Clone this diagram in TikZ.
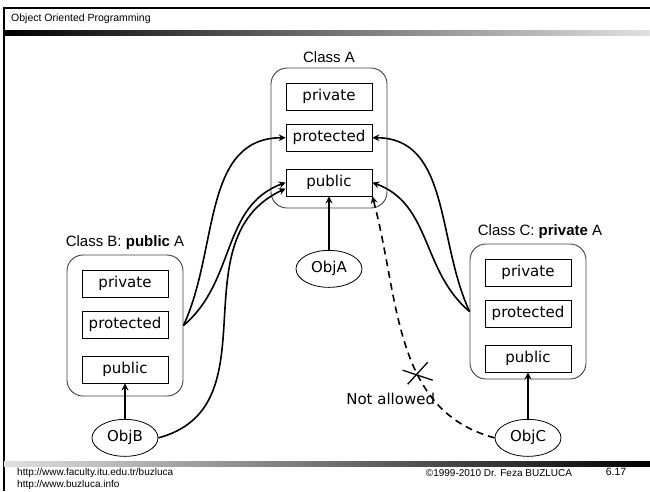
\documentclass[tikz,border=0pt]{standalone}
\usepackage{fontspec}
\usepackage{tikz}
\usetikzlibrary{shapes, arrows, arrows.meta, positioning, calc}
\newfontfamily\arialfont{Liberation Sans}
\newfontfamily\comicfont{DejaVu Sans}

\begin{document}
\begin{tikzpicture}[x=1pt, y=1pt, >={Stealth[length=7pt, width=7pt, inset=2.5pt]},
    classbox/.style={rectangle, draw=black!75, line width=0.9pt, rounded corners=16pt, minimum width=116pt, minimum height=141pt},
    fieldbox/.style={rectangle, draw, line width=0.8pt, minimum width=86pt, minimum height=27pt, inner sep=0pt, font=\comicfont\fontsize{15}{18}\selectfont},
    objnode/.style={ellipse, draw, line width=0.8pt, minimum width=66pt, minimum height=37pt, inner sep=0pt, font=\comicfont\fontsize{15}{18}\selectfont},
    classlabel/.style={inner sep=1pt, font=\arialfont\fontsize{15}{18}\selectfont},
    footer/.style={inner sep=0pt, font=\arialfont\fontsize{10}{12}\selectfont},
    link/.style={->, line width=1.6pt}]

    \useasboundingbox (0,0) rectangle (650,-491);
    \draw[line width=2.5pt] (3,-8) -- (650,-8);
    \draw[line width=1.5pt] (4,-8) -- (4,-491);
    \node[anchor=west, inner sep=0pt, font=\arialfont\fontsize{10.5}{12}\selectfont] (title) at (11,-19) {Object Oriented Programming};
    \shade[left color=black, right color=black!12] (4,-30.5) rectangle (650,-35.5);
    \shade[left color=black!12, middle color=black!30, right color=black] (4,-461) rectangle (650,-466);

    \node[classbox, minimum height=140pt] (clsA) at (329,-138) {};
    \node[classlabel, above=4pt of clsA] (lblA) {Class A};
    \node[fieldbox, below=15pt of clsA.north] (priA) {private};
    \node[fieldbox, below=13.5pt of priA] (proA) {protected};
    \node[fieldbox, below=17pt of proA] (pubA) {public};
    \node[objnode, below=41.5pt of clsA] (objA) {ObjA};

    \node[classbox] (clsB) at (125,-325.5) {};
    \node[classlabel, above=4pt of clsB] (lblB) {Class B: \textbf{public} A};
    \node[fieldbox, below=15pt of clsB.north] (priB) {private};
    \node[fieldbox, below=13.5pt of priB] (proB) {protected};
    \node[fieldbox, below=17pt of proB] (pubB) {public};
    \node[objnode, below=22.5pt of clsB] (objB) {ObjB};

    \node[classbox, minimum height=135pt] (clsC) at (528,-311.5) {};
    \node[classlabel, above=4pt of clsC, xshift=12pt] (lblC) {Class C: \textbf{private} A};
    \node[fieldbox, below=15pt of clsC.north] (priC) {private};
    \node[fieldbox, below=13.5pt of priC] (proC) {protected};
    \node[fieldbox, below=17pt of proC] (pubC) {public};
    \node[objnode, below=39.5pt of clsC] (objC) {ObjC};

    \draw[link] (objA) -- (pubA);
    \draw[link] (objB) -- (pubB);
    \draw[link] (objC) -- (pubC);
    \draw[link] (clsB.east) to[out=65, in=180] (proA.west);
    \draw[link] (clsB.east) to[out=40, in=200] (pubA.west);
    \draw[link] (objB.east) to[out=15, in=205, looseness=1.1] ([yshift=-6pt]pubA.west);
    \draw[link] (clsC.west) to[out=115, in=0] (proA.east);
    \draw[link] (clsC.west) to[out=140, in=-20] (pubA.east);
    \draw[link, dash pattern=on 7pt off 5pt] (objC.west) to[out=165, in=285] coordinate[pos=0.38] (cross) (pubA.south east);

    \draw[line width=1.3pt] ($(cross)+(-15,5)$) -- ($(cross)+(15,-5)$);
    \draw[line width=1.3pt] ($(cross)+(-10,-9)$) -- ($(cross)+(10,13)$);
    \node[font=\comicfont\fontsize{15}{18}\selectfont] (notok) at ($(cross)+(-27,-24)$) {Not allowed};

    \node[footer, anchor=west] (urlA) at (17,-473) {http://www.faculty.itu.edu.tr/buzluca};
    \node[footer, anchor=west] (urlB) at (17,-485) {http://www.buzluca.info};
    \node[footer] (copy) at (499,-473) {©1999-2010 Dr. Feza BUZLUCA};
    \node[footer, font=\arialfont\fontsize{10.5}{12}\selectfont] (page) at (616,-472) {6.17};
\end{tikzpicture}
\end{document}
